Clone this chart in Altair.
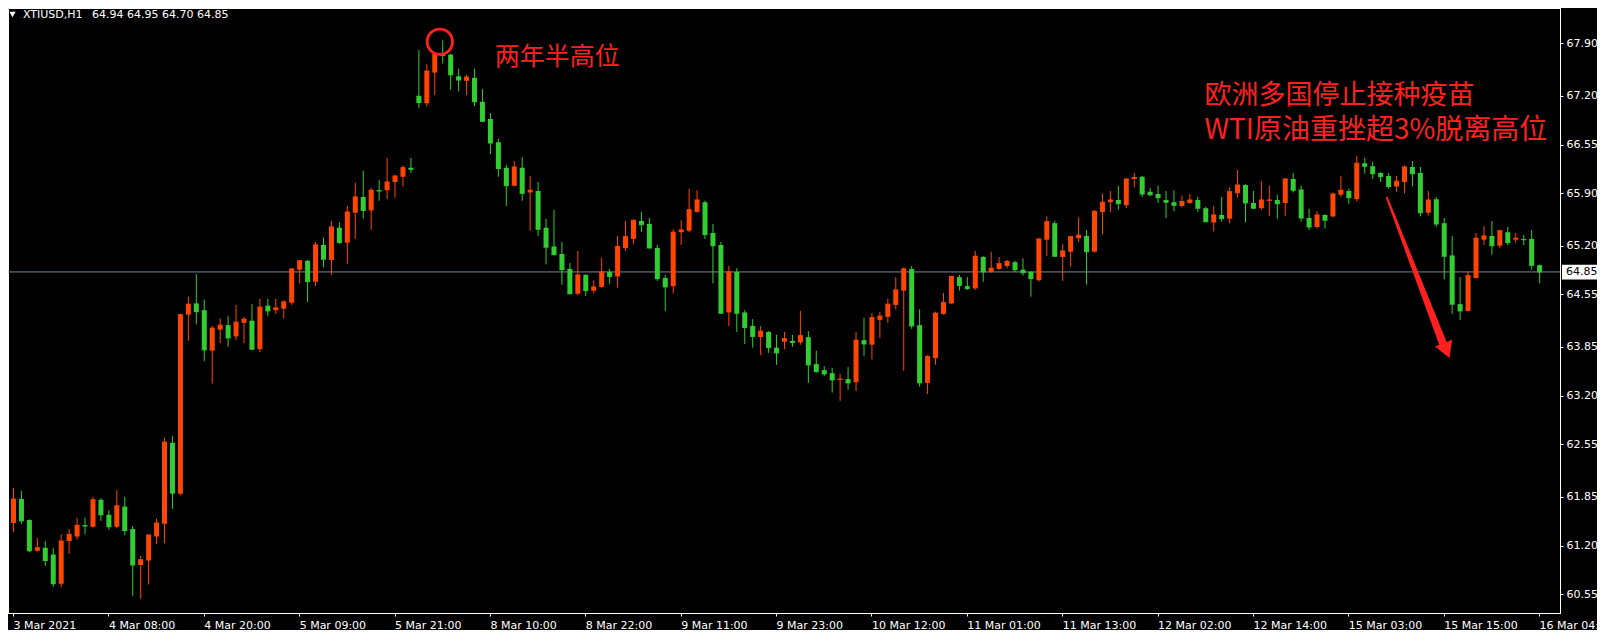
import altair as alt
import pandas as pd

# ---------------- data (H1 bars) ----------------
open_ = [61.50, 61.82, 61.54, 61.13, 61.17, 61.08, 60.69, 61.26, 61.32, 61.47,
         61.45, 61.81, 61.61, 61.45, 61.72, 61.42, 60.94, 61.00, 61.32, 61.49,
         62.57, 61.89, 64.28, 64.43, 64.34, 63.80, 64.08, 64.14, 63.99, 64.17,
         64.20, 63.82, 64.40, 64.34, 64.36, 64.44, 64.88, 65.00, 64.72, 65.21,
         65.01, 65.44, 65.24, 65.64, 65.85, 65.67, 65.94, 65.94, 66.05, 66.12,
         66.24, 67.20, 67.10, 67.51, 67.77, 67.75, 67.46, 67.40, 67.44, 67.12,
         66.89, 66.58, 66.24, 66.00, 66.24, 65.91, 65.93, 65.44, 65.19, 65.09,
         64.89, 64.56, 64.81, 64.60, 64.65, 64.85, 64.79, 65.17, 65.29, 65.53,
         65.49, 65.17, 64.77, 64.66, 65.38, 65.40, 65.65, 65.78, 65.37, 65.21,
         64.31, 64.85, 64.31, 64.13, 63.98, 64.05, 63.84, 63.92, 63.93, 63.91,
         63.98, 63.62, 63.54, 63.50, 63.41, 63.42, 63.38, 63.94, 63.88, 64.21,
         64.25, 64.41, 64.60, 64.89, 64.14, 63.37, 63.70, 64.29, 64.43, 64.78,
         64.66, 64.63, 65.05, 64.85, 64.89, 64.93, 64.98, 64.88, 64.85, 64.74,
         65.28, 65.50, 65.05, 65.12, 65.30, 65.33, 65.12, 65.65, 65.78, 65.81,
         65.74, 66.09, 66.12, 65.92, 65.89, 65.81, 65.78, 65.73, 65.77, 65.81,
         65.70, 65.51, 65.61, 65.56, 65.90, 66.01, 65.77, 65.70, 65.80, 65.81,
         65.77, 66.09, 65.95, 65.57, 65.45, 65.61, 65.59, 65.88, 65.93, 65.82,
         66.30, 66.26, 66.17, 66.13, 65.99, 66.05, 66.25, 66.17, 65.64, 65.82,
         65.50, 65.07, 64.42, 64.33, 64.77, 65.28, 65.33, 65.20, 65.38, 65.28,
         65.29, 65.29, 64.94]
high = [61.97, 61.93, 61.55, 61.30, 61.26, 61.17, 61.35, 61.42, 61.57, 61.57,
        61.85, 61.83, 61.67, 61.94, 61.85, 61.46, 61.06, 61.35, 61.56, 62.64,
        62.66, 64.29, 64.52, 64.82, 64.48, 64.13, 64.23, 64.26, 64.41, 64.25,
        64.42, 64.49, 64.49, 64.49, 64.47, 64.90, 65.00, 65.01, 65.25, 65.31,
        65.53, 65.51, 65.73, 66.04, 66.20, 65.97, 66.08, 66.37, 66.14, 66.27,
        66.37, 67.81, 67.62, 67.75, 67.94, 67.76, 67.56, 67.48, 67.56, 67.29,
        66.97, 66.63, 66.28, 66.33, 66.38, 66.13, 66.05, 65.56, 65.68, 65.25,
        64.97, 65.13, 64.82, 64.74, 65.04, 64.89, 65.33, 65.53, 65.55, 65.65,
        65.57, 65.21, 64.81, 65.42, 65.54, 65.96, 65.94, 65.80, 65.49, 65.25,
        64.93, 64.90, 64.34, 64.22, 64.13, 64.06, 64.01, 64.05, 64.01, 64.33,
        64.06, 63.80, 63.59, 63.57, 63.49, 63.58, 64.05, 64.24, 64.30, 64.32,
        64.49, 64.78, 64.91, 64.93, 64.35, 63.74, 64.32, 64.57, 64.80, 64.81,
        64.78, 65.13, 65.06, 65.12, 65.05, 65.01, 65.00, 65.03, 64.86, 65.30,
        65.59, 65.53, 65.22, 65.33, 65.58, 65.41, 65.67, 65.90, 65.93, 66.00,
        66.10, 66.17, 66.13, 65.97, 66.00, 65.93, 65.94, 65.87, 65.89, 65.85,
        65.72, 65.73, 65.85, 65.98, 66.21, 66.02, 65.93, 66.06, 66.00, 65.88,
        66.10, 66.17, 66.00, 65.69, 65.66, 65.62, 65.91, 66.13, 65.96, 66.40,
        66.37, 66.32, 66.18, 66.17, 66.13, 66.27, 66.33, 66.25, 65.93, 65.85,
        65.57, 65.33, 64.78, 64.86, 65.37, 65.46, 65.53, 65.41, 65.45, 65.37,
        65.34, 65.41, 64.95]
low = [61.38, 61.49, 61.11, 61.12, 60.93, 60.65, 60.64, 61.09, 61.28, 61.35,
       61.44, 61.53, 61.41, 61.43, 61.34, 60.53, 60.49, 60.68, 61.22, 61.23,
       61.69, 61.87, 63.93, 64.15, 63.66, 63.36, 63.90, 63.85, 63.94, 63.90,
       63.81, 63.78, 64.26, 64.29, 64.23, 64.41, 64.70, 64.45, 64.66, 64.91,
       64.81, 65.23, 64.96, 65.29, 65.56, 65.41, 65.80, 65.82, 65.84, 65.99,
       66.17, 67.04, 67.06, 67.21, 67.63, 67.28, 67.26, 67.21, 67.06, 66.85,
       66.42, 66.12, 65.73, 65.99, 65.80, 65.40, 65.33, 64.95, 65.07, 64.68,
       64.55, 64.54, 64.53, 64.56, 64.64, 64.69, 64.64, 65.13, 65.22, 65.38,
       65.16, 64.73, 64.33, 64.56, 65.21, 65.38, 65.64, 65.29, 64.70, 64.29,
       64.13, 64.05, 63.89, 63.84, 63.74, 63.77, 63.61, 63.82, 63.85, 63.88,
       63.37, 63.51, 63.46, 63.24, 63.13, 63.28, 63.26, 63.73, 63.68, 63.97,
       64.17, 64.35, 63.53, 64.09, 63.32, 63.22, 63.61, 64.28, 64.42, 64.60,
       64.61, 64.61, 64.72, 64.84, 64.88, 64.90, 64.85, 64.80, 64.52, 64.72,
       65.06, 65.05, 64.73, 64.92, 65.25, 64.68, 65.11, 65.35, 65.65, 65.68,
       65.70, 65.98, 65.85, 65.86, 65.77, 65.57, 65.66, 65.71, 65.76, 65.65,
       65.51, 65.39, 65.52, 65.50, 65.84, 65.51, 65.69, 65.68, 65.60, 65.56,
       65.60, 65.91, 65.52, 65.41, 65.43, 65.43, 65.58, 65.85, 65.76, 65.79,
       66.16, 66.09, 66.05, 65.96, 65.92, 65.90, 65.99, 65.59, 65.60, 65.45,
       64.75, 64.29, 64.21, 64.32, 64.76, 65.21, 65.08, 65.17, 65.21, 65.24,
       65.21, 64.88, 64.70]
close = [61.82, 61.53, 61.13, 61.17, 61.00, 60.69, 61.26, 61.35, 61.47, 61.46,
         61.81, 61.61, 61.45, 61.73, 61.40, 60.94, 61.01, 61.34, 61.50, 62.58,
         61.90, 64.28, 64.42, 64.32, 63.81, 64.10, 64.14, 63.97, 64.18, 64.22,
         63.82, 64.38, 64.33, 64.37, 64.45, 64.89, 65.00, 64.72, 65.21, 65.02,
         65.45, 65.24, 65.65, 65.85, 65.67, 65.94, 65.93, 66.05, 66.13, 66.24,
         66.22, 67.11, 67.53, 67.75, 67.74, 67.48, 67.41, 67.45, 67.12, 66.86,
         66.57, 66.23, 66.00, 66.25, 65.90, 65.94, 65.42, 65.18, 65.08, 64.88,
         64.56, 64.81, 64.60, 64.65, 64.85, 64.79, 65.19, 65.32, 65.54, 65.48,
         65.17, 64.76, 64.65, 65.38, 65.41, 65.68, 65.81, 65.35, 65.20, 64.30,
         64.85, 64.30, 64.11, 63.99, 64.06, 63.84, 63.77, 63.96, 63.91, 64.00,
         63.61, 63.52, 63.49, 63.41, 63.42, 63.37, 63.94, 63.89, 64.24, 64.26,
         64.42, 64.61, 64.89, 64.13, 63.37, 63.72, 64.30, 64.44, 64.79, 64.67,
         64.63, 65.06, 64.85, 64.90, 64.96, 64.99, 64.88, 64.84, 64.76, 65.29,
         65.52, 65.06, 65.13, 65.32, 65.34, 65.12, 65.66, 65.78, 65.81, 65.76,
         66.09, 66.11, 65.89, 65.88, 65.84, 65.78, 65.74, 65.79, 65.81, 65.70,
         65.52, 65.61, 65.56, 65.92, 66.01, 65.77, 65.70, 65.81, 65.81, 65.76,
         66.09, 65.94, 65.57, 65.45, 65.61, 65.54, 65.89, 65.94, 65.84, 66.30,
         66.26, 66.16, 66.12, 65.99, 66.06, 66.25, 66.16, 65.64, 65.81, 65.49,
         65.06, 64.42, 64.33, 64.80, 65.30, 65.33, 65.20, 65.40, 65.24, 65.30,
         65.28, 64.94, 64.85]

bar_index = list(range(len(close)))

tick_bars = [0, 12, 24, 36, 48, 60, 72, 84, 96, 108, 120, 132, 144, 156, 168, 180, 192]
tick_labels = ["3 Mar 2021", "4 Mar 08:00", "4 Mar 20:00", "5 Mar 09:00", "5 Mar 21:00",
               "8 Mar 10:00", "8 Mar 22:00", "9 Mar 11:00", "9 Mar 23:00", "10 Mar 12:00",
               "11 Mar 01:00", "11 Mar 13:00", "12 Mar 02:00", "12 Mar 14:00",
               "15 Mar 03:00", "15 Mar 15:00", "16 Mar 04:00"]
price_ticks = [60.55, 61.20, 61.85, 62.55, 63.20, 63.85, 64.55, 65.20, 65.90, 66.55, 67.20, 67.90]

symbol = "XTIUSD,H1"
note_peak = "两年半高位"
note_line1 = "欧洲多国停止接种疫苗"
note_line2 = "WTI原油重挫超3%脱离高位"

# ---------------- styling ----------------
UP = "#FF4500"
DOWN = "#32CD32"
RED = "#FF2020"
FONT = "DejaVu Sans"
CJK = "Noto Sans CJK SC"

df = pd.DataFrame({"k": bar_index, "open": open_, "high": high, "low": low, "close": close})
df["dir"] = ["up" if c >= o else "down" for o, c in zip(open_, close)]

xs = alt.Scale(domain=[0, 194], nice=False, zero=False)
ys = alt.Scale(domain=[60.30, 68.371], nice=False, zero=False)
cs = alt.Scale(domain=["up", "down"], range=[UP, DOWN])

label_expr = "[" + ",".join("'" + t + "'" for t in tick_labels) + "][round(datum.value / 12)]"

X_AX = alt.Axis(values=tick_bars, labelExpr=label_expr, orient="bottom", title=None, grid=False,
                labelAlign="left", labelBaseline="top", labelPadding=3, labelFlush=False,
                labelOverlap=False, labelBound=False, tickSize=3, tickColor="white",
                domainColor="white", labelColor="white", labelFont=FONT, labelFontSize=11)
Y_AX = alt.Axis(values=price_ticks, format=".2f", orient="right", title=None, grid=False,
                labelPadding=3, tickSize=3, tickColor="white", domainColor="white",
                labelColor="white", labelFont=FONT, labelFontSize=11, labelOverlap=False,
                labelFlush=False, labelBaseline="middle")


def X(f):
    return alt.X(f, scale=xs, axis=X_AX)


def Y(f):
    return alt.Y(f, scale=ys, axis=Y_AX)


last_close = close[-1]

bid = alt.Chart(pd.DataFrame({"p": [last_close]})).mark_rule(
    color="#778899", strokeWidth=1).encode(y=Y("p:Q"))

wick = alt.Chart(df).mark_rule(strokeWidth=1, xOffset=0.5, clip=True).encode(
    x=X("k:Q"), y=Y("low:Q"), y2="high:Q",
    color=alt.Color("dir:N", scale=cs, legend=None))

body = alt.Chart(df).mark_bar(width=5, xOffset=0.5, clip=True).encode(
    x=X("k:Q"), y=Y("open:Q"), y2="close:Q",
    color=alt.Color("dir:N", scale=cs, legend=None))

closeline = alt.Chart(df).transform_calculate(
    kl="datum.k - 0.25", kr="datum.k + 0.375").mark_rule(strokeWidth=1, clip=True).encode(
    x=X("kl:Q"), x2="kr:Q", y=Y("close:Q"),
    color=alt.Color("dir:N", scale=cs, legend=None))

# annotations (anchored in bar-index / price space)
circle = alt.Chart(pd.DataFrame({"k": [53.7], "p": [67.92]})).mark_point(
    shape="circle", size=640, filled=False, stroke=RED, strokeWidth=2.8, opacity=1).encode(
    x=X("k:Q"), y=Y("p:Q"))

peak_txt = alt.Chart(pd.DataFrame({"k": [60.6], "p": [67.72], "t": [note_peak]})).mark_text(
    align="left", baseline="middle", font=CJK, fontSize=25, color=RED).encode(
    x=X("k:Q"), y=Y("p:Q"), text="t:N")

news1 = alt.Chart(pd.DataFrame({"k": [149.9], "p": [67.20], "t": [note_line1]})).mark_text(
    align="left", baseline="middle", font=CJK, fontSize=27, color=RED).encode(
    x=X("k:Q"), y=Y("p:Q"), text="t:N")
news2 = alt.Chart(pd.DataFrame({"k": [149.9], "p": [66.73], "t": [note_line2]})).mark_text(
    align="left", baseline="middle", font=CJK, fontSize=28, color=RED).encode(
    x=X("k:Q"), y=Y("p:Q"), text="t:N")

shaft = alt.Chart(pd.DataFrame({"k": [172.85, 180.0], "p": [65.84, 63.87], "w": [2, 8]})).mark_trail(
    color=RED).encode(x=X("k:Q"), y=Y("p:Q"),
                      size=alt.Size("w:Q", scale=None, legend=None))

head = alt.Chart(pd.DataFrame({"k": [180.35], "p": [63.80]})).mark_point(
    shape="triangle-up", size=340, filled=True, color=RED, opacity=1, angle=158.5).encode(
    x=X("k:Q"), y=Y("p:Q"))

# header inside chart window
hdr_tri = alt.Chart(pd.DataFrame({"a": [0]})).mark_point(
    shape="triangle-down", size=40, filled=True, color="white", opacity=1).encode(
    x=alt.value(4.5), y=alt.value(6.5))
hdr_sym = alt.Chart(pd.DataFrame({"t": [symbol]})).mark_text(
    align="left", baseline="middle", font=FONT, fontSize=11, color="white").encode(
    x=alt.value(15), y=alt.value(7), text="t:N")
ohlc_str = f"{open_[-1]:.2f} {high[-1]:.2f} {low[-1]:.2f} {close[-1]:.2f}"
hdr_ohlc = alt.Chart(pd.DataFrame({"t": [ohlc_str]})).mark_text(
    align="left", baseline="middle", font=FONT, fontSize=11, color="white").encode(
    x=alt.value(84), y=alt.value(7), text="t:N")

# current price tag on the price axis
tag_box = alt.Chart(pd.DataFrame({"a": [last_close + 0.095], "b": [last_close - 0.10]})).mark_rect(
    color="white").encode(x=alt.value(1554), x2=alt.value(1600), y=Y("a:Q"), y2="b:Q")
tag_txt = alt.Chart(pd.DataFrame({"p": [last_close], "t": [f"{last_close:.2f}"]})).mark_text(
    align="left", baseline="middle", font=FONT, fontSize=11, color="black").encode(
    x=alt.value(1558), y=Y("p:Q"), text="t:N")

chart = alt.layer(
    bid, wick, body, closeline, circle, peak_txt, news1, news2, shaft, head,
    hdr_tri, hdr_sym, hdr_ohlc, tag_box, tag_txt
).properties(
    width=1552, height=605,
    autosize=alt.AutoSizeParams(type="none"),
    padding={"left": 0, "top": 0, "right": 37, "bottom": 17},
).configure(background="black").configure_view(stroke="white", strokeWidth=1)

chart.save("out.html", embed_options={"renderer": "svg", "actions": False})
